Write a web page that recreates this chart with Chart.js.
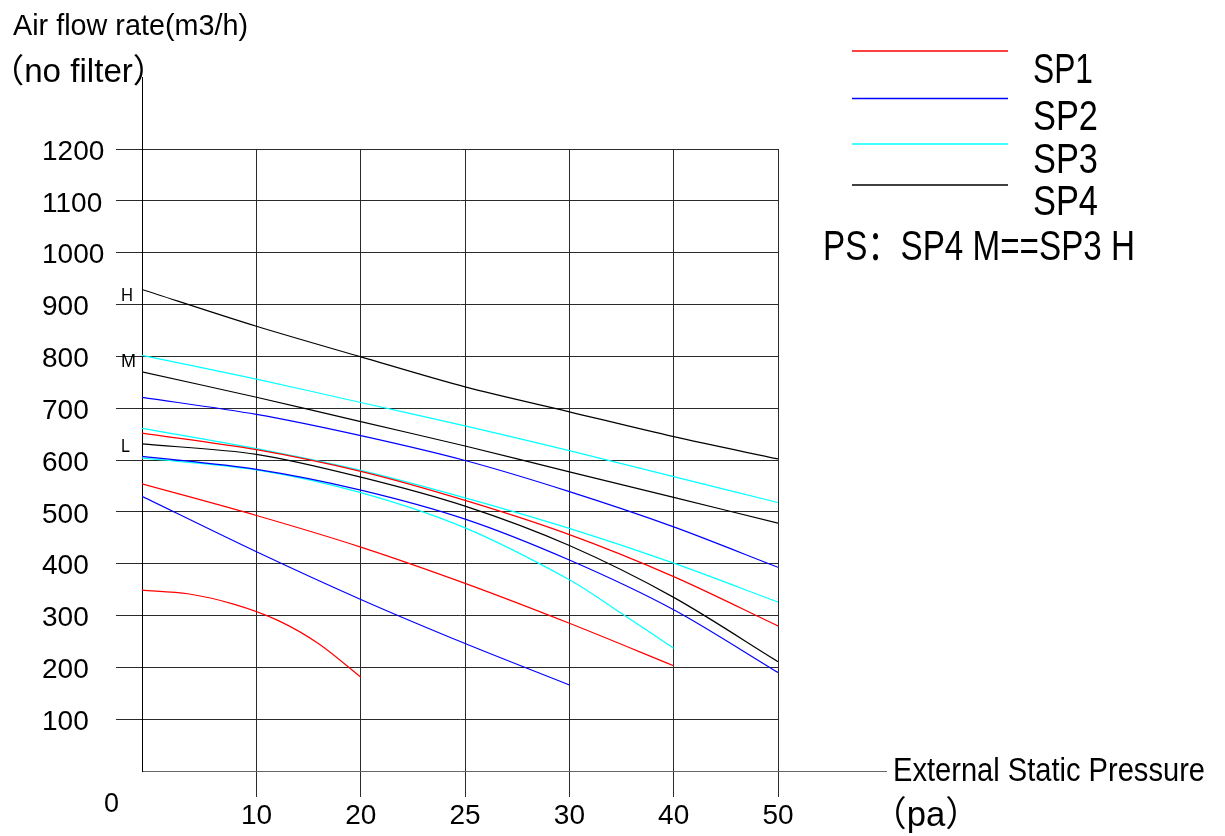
<!DOCTYPE html>
<html>
<head>
<meta charset="utf-8">
<title>Air flow rate vs External Static Pressure</title>
<script src="https://cdn.jsdelivr.net/npm/chart.js@4.4.3/dist/chart.umd.min.js"></script>
<style>
  html, body { margin: 0; padding: 0; background: #fff; }
  #wrap { width: 1225px; height: 836px; }
</style>
</head>
<body>
<div id="wrap"><canvas id="chart" width="1225" height="836"></canvas></div>
<script>
// external static pressure (pa) ticks, airflow (m3/h) ticks
const PRESSURE_TICKS = [0, 10, 20, 25, 30, 40, 50];
const FLOW_MIN = 0, FLOW_MAX = 1200, FLOW_STEP = 100;

// pressure points used by the curves
const P_FULL = [0, 10, 20, 25, 30, 40, 50];
const P_TO_40 = [0, 10, 20, 25, 30, 40];
const P_TO_30 = [0, 10, 20, 25, 30];
const P_CYAN_LOW = [0, 10, 20, 25, 30, 35, 40];
const P_RED_LOW = [0, 4, 8, 12, 16, 20];

// SP1
const SP1_HIGH = [652, 620, 578, 522, 456, 375, 280];
const SP1_MID = [554, 493, 432, 362, 285, 203];
const SP1_LOW = [349, 342, 322, 291, 245, 181];
// SP2
const SP2_HIGH = [721, 688, 647, 599, 539, 471, 393];
const SP2_MID = [607, 582, 542, 486, 407, 311, 190];
const SP2_LOW = [530, 423, 331, 246, 166];
// SP3
const SP3_HIGH = [802, 756, 711, 666, 618, 568, 518];
const SP3_MID = [661, 622, 580, 527, 468, 401, 326];
const SP3_LOW = [604, 581, 537, 469, 369, 304, 237];
// SP4 (H / M / L)
const SP4_HIGH = [929, 858, 799, 741, 693, 645, 602];
const SP4_MID = [770, 721, 674, 627, 577, 528, 478];
const SP4_LOW = [631, 611, 567, 511, 435, 335, 211];

const SERIES = ["SP1", "SP2", "SP3", "SP4"];
const SPEED_MARKS = ["H", "M", "L"];
const SPEED_MARK_FLOW = [906, 779, 615];

const RED = "#ff0000";
const BLUE = "#0000ff";
const CYAN = "#00ffff";
const BLACK = "#000000";
const SERIES_COLORS = [RED, BLUE, CYAN, BLACK];
const GRID = "#2a2a2a";
const FONT = '"Liberation Sans", Arial, "Noto Sans CJK SC", sans-serif';

// the pressure axis is not linear: 0-10 is a bit wider, the rest evenly spaced
const TICK_FRAC = [0, 0.18, 0.344, 0.508, 0.672, 0.836, 1];

function fracOf(v) {
  const t = PRESSURE_TICKS;
  if (v <= t[0]) return TICK_FRAC[0];
  for (let i = 1; i < t.length; i++) {
    if (v <= t[i]) return TICK_FRAC[i - 1] + (TICK_FRAC[i] - TICK_FRAC[i - 1]) * (v - t[i - 1]) / (t[i] - t[i - 1]);
  }
  return TICK_FRAC[TICK_FRAC.length - 1];
}

class PressureScale extends Chart.LinearScale {
  static id = "pressure";
  static defaults = Chart.LinearScale.defaults;
  buildTicks() { return PRESSURE_TICKS.map((v) => ({ value: v })); }
  getPixelForValue(v) { return v == null ? NaN : this.getPixelForDecimal(fracOf(v)); }
  getValueForPixel(px) {
    const d = this.getDecimalForPixel(px);
    for (let i = 1; i < TICK_FRAC.length; i++) {
      if (d <= TICK_FRAC[i]) {
        const a = PRESSURE_TICKS[i - 1], b = PRESSURE_TICKS[i];
        return a + (b - a) * (d - TICK_FRAC[i - 1]) / (TICK_FRAC[i] - TICK_FRAC[i - 1]);
      }
    }
    return PRESSURE_TICKS[PRESSURE_TICKS.length - 1];
  }
}
Chart.register(PressureScale);

const curve = (label, xs, ys, color) => ({
  label,
  data: xs.map((x, i) => ({ x, y: ys[i] })),
  borderColor: color,
  borderWidth: 1.2,
  pointRadius: 0,
  fill: false,
  tension: 0.3,
});

const datasets = [
  curve("SP1", P_FULL, SP1_HIGH, RED),
  curve("SP1", P_TO_40, SP1_MID, RED),
  curve("SP1", P_RED_LOW, SP1_LOW, RED),
  curve("SP2", P_FULL, SP2_HIGH, BLUE),
  curve("SP2", P_FULL, SP2_MID, BLUE),
  curve("SP2", P_TO_30, SP2_LOW, BLUE),
  curve("SP3", P_FULL, SP3_HIGH, CYAN),
  curve("SP3", P_FULL, SP3_MID, CYAN),
  curve("SP3", P_CYAN_LOW, SP3_LOW, CYAN),
  curve("SP4", P_FULL, SP4_HIGH, BLACK),
  curve("SP4", P_FULL, SP4_MID, BLACK),
  curve("SP4", P_FULL, SP4_LOW, BLACK),
];

// text squeezed horizontally to a given width (the source uses a narrow face)
function drawText(ctx, str, x, y, size, width) {
  ctx.save();
  ctx.font = `${size}px ${FONT}`;
  ctx.textAlign = "left";
  ctx.textBaseline = "alphabetic";
  ctx.fillStyle = "#000";
  const w = ctx.measureText(str).width;
  ctx.translate(x, y);
  ctx.scale(width ? width / w : 1, 1);
  ctx.fillText(str, 0, 0);
  ctx.restore();
}

const line = (ctx, x1, y1, x2, y2, color, width = 1) => {
  ctx.save();
  ctx.strokeStyle = color;
  ctx.lineWidth = width;
  ctx.beginPath();
  ctx.moveTo(x1, y1);
  ctx.lineTo(x2, y2);
  ctx.stroke();
  ctx.restore();
};

const decorations = {
  id: "decorations",
  afterDraw(chart) {
    const { ctx, chartArea: a, scales: { x, y } } = chart;
    const left = Math.round(x.getPixelForValue(0)) + 0.5;
    const bottom = Math.round(y.getPixelForValue(0)) + 0.5;

    // axis lines run past the grid
    line(ctx, left, 77, left, a.top, "#000");
    line(ctx, a.right, bottom, 887, bottom, "#666");

    drawText(ctx, "Air flow rate(m3/h)", 13, 35, 30, 235);
    drawText(ctx, "（no filter）", -9, 82, 33, 175);
    drawText(ctx, "0", 104, 812, 28, 15);
    drawText(ctx, "External Static Pressure", 893, 781, 34, 312);
    drawText(ctx, "（pa）", 872, 826, 35, 108);

    SPEED_MARKS.forEach((m, i) => {
      const py = y.getPixelForValue(SPEED_MARK_FLOW[i]);
      drawText(ctx, m, 121, py, 19, m === "M" ? 15 : m === "L" ? 9 : 12);
    });

    // legend
    const lineY = [51, 98.5, 144, 185];
    const textY = [83, 130, 173, 215];
    const textW = [60, 65, 65, 65];
    SERIES.forEach((s, i) => {
      line(ctx, 852, lineY[i], 1008, lineY[i], SERIES_COLORS[i], 1.3);
      drawText(ctx, s, 1033, textY[i], 43, textW[i]);
    });
    drawText(ctx, "PS：SP4 M==SP3 H", 823, 260, 42, 312);
  },
};

const hideZero = (c) => (c.tick && c.tick.value === 0 ? "rgba(0,0,0,0)" : GRID);

new Chart(document.getElementById("chart"), {
  type: "line",
  data: { datasets },
  options: {
    responsive: false,
    animation: false,
    layout: { padding: { left: 42, top: 149, right: 447, bottom: 0 } },
    plugins: { legend: { display: false }, tooltip: { enabled: false } },
    scales: {
      x: {
        type: "pressure",
        min: 0,
        max: 50,
        grid: { color: hideZero, lineWidth: 1, tickLength: 26, drawTicks: true },
        border: { display: true, color: "#666", width: 1 },
        ticks: {
          autoSkip: false,
          maxRotation: 0,
          padding: 2,
          color: "#000",
          font: { family: FONT, size: 28 },
          callback: (v) => (v === 0 ? "" : String(v)),
        },
        afterFit: (s) => { s.height = 65; },
      },
      y: {
        min: FLOW_MIN,
        max: FLOW_MAX,
        grid: { color: hideZero, lineWidth: 1, tickLength: 26, drawTicks: true },
        border: { display: true, color: "#000", width: 1 },
        ticks: {
          stepSize: FLOW_STEP,
          crossAlign: "far",
          padding: 8,
          labelOffset: 3,
          color: "#000",
          font: { family: FONT, size: 28 },
          callback: (v) => (v === 0 ? "" : String(v)),
        },
        afterFit: (s) => { s.width = 100; },
      },
    },
  },
  plugins: [decorations],
});
</script>
</body>
</html>
